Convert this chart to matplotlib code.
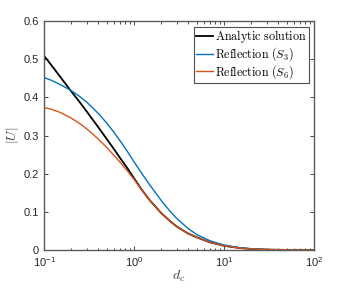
import matplotlib
matplotlib.use("Agg")
import matplotlib.pyplot as plt

plt.rcParams['font.family'] = ['Liberation Sans', 'DejaVu Sans']
plt.rcParams['mathtext.fontset'] = 'cm'

# distance values (log axis)
d = [0.1, 0.12, 0.15, 0.2, 0.25, 0.3, 0.4, 0.5, 0.6, 0.7, 0.85, 1, 1.2, 1.5,
     2, 2.5, 3, 4, 5, 7, 10, 15, 20, 30, 50, 100]

analytic = [0.509, 0.485, 0.455, 0.416, 0.387, 0.362, 0.322, 0.290, 0.264,
            0.241, 0.213, 0.188, 0.160, 0.130, 0.097, 0.076, 0.061, 0.043,
            0.033, 0.020, 0.011, 0.005, 0.0028, 0.001, 0.0002, 0.0]

refl_s3 = [0.452, 0.445, 0.434, 0.418, 0.402, 0.387, 0.358, 0.332, 0.308,
           0.286, 0.257, 0.231, 0.203, 0.170, 0.130, 0.102, 0.082, 0.056,
           0.040, 0.024, 0.013, 0.006, 0.003, 0.001, 0.0003, 0.0]

refl_s6 = [0.373, 0.369, 0.361, 0.346, 0.331, 0.317, 0.291, 0.268, 0.248,
           0.230, 0.206, 0.185, 0.159, 0.130, 0.097, 0.076, 0.061, 0.043,
           0.033, 0.020, 0.011, 0.005, 0.0028, 0.001, 0.0002, 0.0]

fig = plt.figure(figsize=(3.47, 2.89), dpi=100)
ax = fig.add_axes([0.127, 0.135, 0.778, 0.792])

ax.plot(d, analytic, color='black', lw=1.3, label=r'$\mathrm{Analytic\ solution}$')
ax.plot(d, refl_s3, color='#0072BD', lw=1.0, label=r'$\mathrm{Reflection}\ (S_3)$')
ax.plot(d, refl_s6, color='#D95319', lw=1.0, label=r'$\mathrm{Reflection}\ (S_6)$')

ax.set_xscale('log')
ax.set_xlim(0.1, 100)
ax.set_ylim(0, 0.6)
ax.set_xticks([0.1, 1, 10, 100])
ax.set_xticklabels([r'$\mathregular{10^{-1}}$', r'$\mathregular{10^{0}}$',
                    r'$\mathregular{10^{1}}$', r'$\mathregular{10^{2}}$'])
ax.set_yticks([0, 0.1, 0.2, 0.3, 0.4, 0.5, 0.6])
ax.set_yticklabels(['0', '0.1', '0.2', '0.3', '0.4', '0.5', '0.6'])

ax.tick_params(which='both', direction='in', top=True, right=True,
               labelsize=8, colors='#262626', width=0.6)
ax.tick_params(which='major', length=3)
ax.tick_params(which='minor', length=1.8)
for s in ax.spines.values():
    s.set_color('#5a5a5a')
    s.set_linewidth(1.0)

ax.set_xlabel(r'$d_c$', fontsize=10, color='#404040', labelpad=0)
ax.set_ylabel(r'$|U|$', fontsize=10, color='#404040', labelpad=2)

leg = ax.legend(loc='upper right', fontsize=8.7, frameon=True, fancybox=False,
                handlelength=1.4, handletextpad=0.2, borderpad=0.15,
                labelspacing=0.0, borderaxespad=0.45)
leg.get_frame().set_edgecolor('#262626')
leg.get_frame().set_linewidth(0.8)

fig.savefig('out.png', dpi=100)
